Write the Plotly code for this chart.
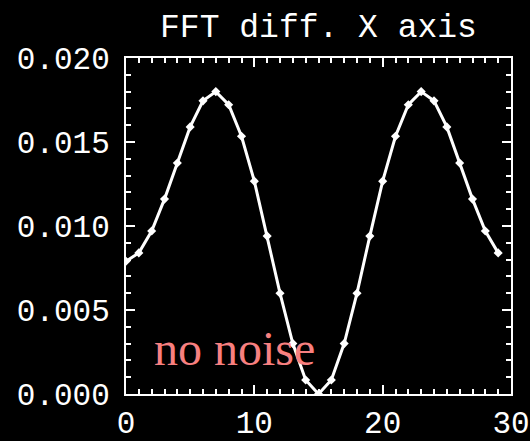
import plotly.graph_objects as go

# Data
x_vals = list(range(30))
y_vals = [0.0079, 0.0084, 0.0097, 0.0116, 0.01375, 0.0159, 0.01745, 0.0180, 0.01722, 0.01534,
          0.01267, 0.0094, 0.0060, 0.0030, 0.00083, 0.0, 0.00083, 0.0030, 0.0060, 0.0094,
          0.01267, 0.01534, 0.01722, 0.0180, 0.01745, 0.0159, 0.01375, 0.0116, 0.0097, 0.0084]
x_ticks = [0, 10, 20, 30]
y_ticks = [0.000, 0.005, 0.010, 0.015, 0.020]
y_tick_text = ["0.000", "0.005", "0.010", "0.015", "0.020"]
title_text = "FFT diff. X axis"
note_text = "no noise"

mono = "Liberation Mono"

fig = go.Figure()
fig.add_trace(go.Scatter(
    x=x_vals, y=y_vals, mode="lines+markers",
    line=dict(color="white", width=3),
    marker=dict(symbol="diamond", size=7, color="white"),
    showlegend=False,
))

axis_common = dict(
    showgrid=False, zeroline=False, showline=True, linecolor="white", linewidth=2,
    mirror="allticks", ticks="inside", tickcolor="white", tickwidth=2,
    tickfont=dict(family=mono, size=31, color="white"), automargin=False,
)

fig.update_layout(
    width=530, height=441,
    margin=dict(l=126, r=19, t=58, b=47),
    paper_bgcolor="black", plot_bgcolor="black",
    title=dict(text=title_text, x=0.5, xref="paper", y=1 - 25 / 441, yref="container",
               xanchor="center", yanchor="middle", automargin=False,
               font=dict(family=mono, size=33, color="white")),
    xaxis=dict(range=[0, 30], tickvals=x_ticks, ticklen=9, ticklabelstandoff=0,
               minor=dict(dtick=1, ticklen=5, ticks="inside", tickcolor="white", tickwidth=2),
               **axis_common),
    yaxis=dict(range=[0, 0.02], tickvals=y_ticks, ticktext=y_tick_text, ticklen=9,
               ticklabelstandoff=8,
               minor=dict(dtick=0.001, ticklen=5, ticks="inside", tickcolor="white", tickwidth=2),
               **axis_common),
    annotations=[dict(text=note_text, x=2, y=0.0027, xref="x", yref="y",
                      xanchor="left", yanchor="middle", showarrow=False,
                      font=dict(family="Liberation Serif", size=48, color="#F88080"))],
)

fig.write_html("out.html")
